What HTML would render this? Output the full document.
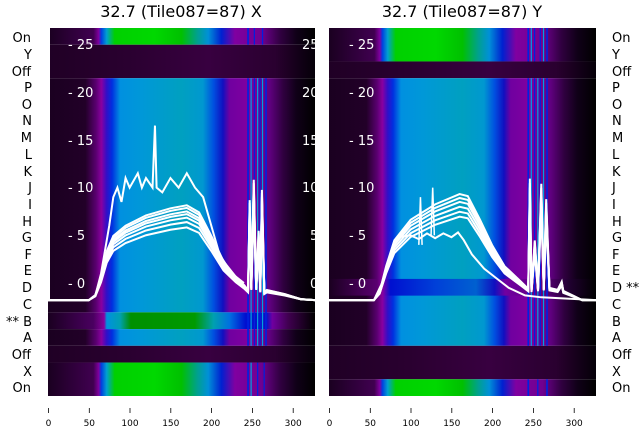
<!DOCTYPE html>
<html><head><meta charset="utf-8"><style>html,body{margin:0;padding:0;background:#fff}svg{display:block}</style></head><body>
<svg width="640" height="440" xmlns="http://www.w3.org/2000/svg" font-family="DejaVu Sans, Liberation Sans, sans-serif">
<defs>
<linearGradient id="b"><stop offset="0" stop-color="#1a0020"/><stop offset="0.14" stop-color="#220028"/><stop offset="0.18" stop-color="#5a0070"/><stop offset="0.2" stop-color="#8a00a0"/><stop offset="0.22" stop-color="#3010c8"/><stop offset="0.24" stop-color="#0030e0"/><stop offset="0.27" stop-color="#0090e0"/><stop offset="0.35" stop-color="#0098d8"/><stop offset="0.5" stop-color="#00a0c0"/><stop offset="0.58" stop-color="#0098d0"/><stop offset="0.62" stop-color="#0050e0"/><stop offset="0.655" stop-color="#1010c0"/><stop offset="0.68" stop-color="#7000a0"/><stop offset="0.75" stop-color="#8000a0"/><stop offset="0.83" stop-color="#600080"/><stop offset="0.88" stop-color="#300040"/><stop offset="0.93" stop-color="#100018"/><stop offset="1" stop-color="#000"/></linearGradient>
<linearGradient id="b2"><stop offset="0" stop-color="#1a0020"/><stop offset="0.18" stop-color="#5a0070"/><stop offset="0.2" stop-color="#8a00a0"/><stop offset="0.23" stop-color="#0010d0"/><stop offset="0.4" stop-color="#0040d8"/><stop offset="0.55" stop-color="#0060d0"/><stop offset="0.62" stop-color="#1010c0"/><stop offset="0.66" stop-color="#7000a0"/><stop offset="0.8" stop-color="#600080"/><stop offset="0.9" stop-color="#200030"/><stop offset="1" stop-color="#000"/></linearGradient>
<linearGradient id="g"><stop offset="0" stop-color="#1a0020"/><stop offset="0.17" stop-color="#400050"/><stop offset="0.19" stop-color="#8000a0"/><stop offset="0.2" stop-color="#0040e0"/><stop offset="0.22" stop-color="#00a0d0"/><stop offset="0.25" stop-color="#00d000"/><stop offset="0.4" stop-color="#00d800"/><stop offset="0.5" stop-color="#00c000"/><stop offset="0.56" stop-color="#00a090"/><stop offset="0.6" stop-color="#0090d8"/><stop offset="0.65" stop-color="#0020d0"/><stop offset="0.7" stop-color="#8000a0"/><stop offset="0.8" stop-color="#700090"/><stop offset="0.87" stop-color="#300040"/><stop offset="0.93" stop-color="#100018"/><stop offset="1" stop-color="#000"/></linearGradient>
<linearGradient id="bg"><stop offset="0" stop-color="#1a0020"/><stop offset="0.17" stop-color="#4a0060"/><stop offset="0.21" stop-color="#8a00a0"/><stop offset="0.22" stop-color="#0090e0"/><stop offset="0.27" stop-color="#00a0b0"/><stop offset="0.31" stop-color="#009000"/><stop offset="0.55" stop-color="#009a00"/><stop offset="0.62" stop-color="#00a0b0"/><stop offset="0.68" stop-color="#0070e0"/><stop offset="0.74" stop-color="#0010d0"/><stop offset="0.82" stop-color="#1010c0"/><stop offset="0.84" stop-color="#7000a0"/><stop offset="0.9" stop-color="#400050"/><stop offset="1" stop-color="#000"/></linearGradient>
<linearGradient id="d"><stop offset="0" stop-color="#200025"/><stop offset="0.3" stop-color="#2a0030"/><stop offset="0.6" stop-color="#380040"/><stop offset="0.85" stop-color="#2a0030"/><stop offset="0.95" stop-color="#100015"/><stop offset="1" stop-color="#050008"/></linearGradient>
<clipPath id="cl"><rect x="48" y="28" width="267" height="368"/></clipPath>
<clipPath id="cr"><rect x="329" y="28" width="267" height="368"/></clipPath>
<path id="L1" d="M0,-1.8 L50,-1.8 58,-1.3 65,0.5 72,3 80,4.5 95,5.5 120,6.5 150,7.2 170,7.5 185,6.8 200,4.5 215,2 230,0.5 240,-0.3 245,-0.8 247,8 249,-0.5 252,10 255,-0.5 258,5 260,-0.8 262,9 265,-1 268,-0.8 290,-1.2 310,-1.7 327,-1.8" fill="none" stroke="#fff" stroke-width="2" vector-effect="non-scaling-stroke"/>
<path id="R1" d="M0,-1.8 L55,-1.8 62,-1 70,1.5 80,4 100,6 130,7.5 160,8.5 170,8.3 185,6 200,3.5 215,1.5 235,0 244,-0.7 246,10 248,-0.8 252,4 256,-0.7 260,9.5 263,-0.6 266,8 270,-0.6 280,-0.8 285,0 287,-0.9 300,-1.4 310,-1.8 327,-1.8" fill="none" stroke="#fff" stroke-width="2" vector-effect="non-scaling-stroke"/>
</defs>

<text x="181" y="17" font-size="16" text-anchor="middle">32.7 (Tile087=87) X</text>
<text x="462" y="17" font-size="16" text-anchor="middle">32.7 (Tile087=87) Y</text>

<g clip-path="url(#cl)">
<g transform="translate(48,28) scale(0.8165,16.727)">
<rect x="0" y="0" width="327" height="1" fill="url(#g)"/>
<rect x="0" y="1" width="327" height="2" fill="url(#d)"/>
<rect x="0" y="3" width="327" height="14" fill="url(#b)"/>
<rect x="0" y="17" width="327" height="1" fill="url(#bg)"/>
<rect x="0" y="18" width="327" height="1" fill="url(#b)"/>
<rect x="0" y="19" width="327" height="1" fill="url(#d)"/>
<rect x="0" y="20" width="327" height="2" fill="url(#g)"/>
<g fill="#0020e0"><rect x="244" y="3" width="2" height="16"/><rect x="252" y="3" width="1.5" height="16"/><rect x="259" y="3" width="1.5" height="16"/><rect x="266" y="3" width="2" height="16"/><rect x="244" y="0" width="2" height="1"/><rect x="252" y="0" width="1.5" height="1"/><rect x="262" y="0" width="1.5" height="1"/><rect x="244" y="20" width="2" height="2"/><rect x="256" y="20" width="1.5" height="2"/><rect x="264" y="20" width="1.5" height="2"/></g>
<g fill="#00a0e0"><rect x="248" y="3" width="1.5" height="16"/><rect x="256" y="3" width="1.5" height="16"/><rect x="262" y="3" width="1.5" height="16"/><rect x="248" y="20" width="1.5" height="2"/></g>
</g>
<rect x="48" y="28" width="2" height="272" fill="#fff"/>
<g font-size="13" fill="#fff">
<text x="68" y="49">- 25</text><text x="68" y="97">- 20</text><text x="68" y="145">- 15</text><text x="68" y="192">- 10</text><text x="68" y="240">- 5</text><text x="68" y="288">- 0</text>
<text x="302" y="49">25</text><text x="302" y="97">20</text><text x="302" y="145">15</text><text x="302" y="192">10</text><text x="310" y="240">5</text><text x="310" y="288">0</text>
</g>
<g transform="translate(48,283) scale(0.8165,-9.54)">
<use href="#L1" transform="translate(0,-1.8) scale(1,0.82) translate(0,1.8)"/>
<use href="#L1" transform="translate(0,-1.8) scale(1,0.88) translate(0,1.8)"/>
<use href="#L1" transform="translate(0,-1.8) scale(1,0.93) translate(0,1.8)"/>
<use href="#L1" transform="translate(0,-1.8) scale(1,0.97) translate(0,1.8)"/>
<use href="#L1"/>
<use href="#L1" transform="translate(0,-1.8) scale(1,1.04) translate(0,1.8)"/>
<use href="#L1" transform="translate(0,-1.8) scale(1,1.07) translate(0,1.8)"/>
<path d="M0,-1.8 L50,-1.8 58,-1.3 65,1 75,6 80,9 85,10 90,8.5 95,11 100,10 110,11.5 115,10 120,11 128,10 131,16.5 133,10 140,9.5 150,11 160,10 170,11.5 180,10 190,9 200,6 210,3 225,1 240,0" fill="none" stroke="#fff" stroke-width="2" vector-effect="non-scaling-stroke"/>
</g>
</g>

<g clip-path="url(#cr)">
<g transform="translate(329,28) scale(0.8165,16.727)">
<rect x="0" y="0" width="327" height="2" fill="url(#g)"/>
<rect x="0" y="2" width="327" height="1" fill="url(#d)"/>
<rect x="0" y="3" width="327" height="16" fill="url(#b)"/>
<rect x="0" y="15" width="327" height="1" fill="url(#b2)"/>
<rect x="0" y="19" width="327" height="2" fill="url(#d)"/>
<rect x="0" y="21" width="327" height="1" fill="url(#g)"/>
<g fill="#0020e0"><rect x="243" y="0" width="2" height="2"/><rect x="251" y="0" width="1.5" height="2"/><rect x="258" y="0" width="1.5" height="2"/><rect x="266" y="0" width="2" height="2"/><rect x="243" y="3" width="2" height="16"/><rect x="251" y="3" width="1.5" height="16"/><rect x="258" y="3" width="1.5" height="16"/><rect x="266" y="3" width="2" height="16"/><rect x="243" y="21" width="2" height="1"/><rect x="255" y="21" width="1.5" height="1"/><rect x="266" y="21" width="2" height="1"/></g>
<g fill="#00a0e0"><rect x="247" y="0" width="1.5" height="2"/><rect x="262" y="0" width="1.5" height="2"/><rect x="247" y="3" width="1.5" height="16"/><rect x="255" y="3" width="1.5" height="16"/><rect x="262" y="3" width="1.5" height="16"/></g>
</g>
<g font-size="13" fill="#fff">
<text x="349" y="49">- 25</text><text x="349" y="97">- 20</text><text x="349" y="145">- 15</text><text x="349" y="192">- 10</text><text x="349" y="240">- 5</text><text x="349" y="288">- 0</text>
</g>
<g transform="translate(329,283) scale(0.8165,-9.54)">
<use href="#R1" transform="translate(0,-1.8) scale(1,0.85) translate(0,1.8)"/>
<use href="#R1" transform="translate(0,-1.8) scale(1,0.9) translate(0,1.8)"/>
<use href="#R1" transform="translate(0,-1.8) scale(1,0.95) translate(0,1.8)"/>
<use href="#R1"/>
<use href="#R1" transform="translate(0,-1.8) scale(1,1.04) translate(0,1.8)"/>
<use href="#R1" transform="translate(0,-1.8) scale(1,1.08) translate(0,1.8)"/>
<path d="M0,-1.8 L55,-1.8 65,0 75,3 85,4.8 100,5 110,4.6 120,5.2 130,4.7 140,5.2 150,4.8 158,5.3 165,4.5 175,3 190,1.5 205,0.5 220,-0.5 240,-1.3 260,-1.5 327,-1.8" fill="none" stroke="#fff" stroke-width="2" vector-effect="non-scaling-stroke"/>
<path d="M110,4 L112,9 114,4 M125,5 L127,10 129,5" fill="none" stroke="#fff" stroke-width="1.5" vector-effect="non-scaling-stroke"/>
</g>
</g>

<g font-size="13" fill="#000" text-anchor="end">
<text x="31" y="42">On</text><text x="32" y="59">Y</text><text x="31" y="76">Off</text><text x="32" y="92">P</text><text x="32" y="109">O</text><text x="32" y="125">N</text><text x="32" y="142">M</text><text x="32" y="159">L</text><text x="32" y="176">K</text><text x="32" y="192">J</text><text x="32" y="209">I</text><text x="32" y="226">H</text><text x="32" y="242">G</text><text x="32" y="259">F</text><text x="32" y="275">E</text><text x="32" y="292">D</text><text x="32" y="309">C</text><text x="32" y="326">** B</text><text x="32" y="342">A</text><text x="31" y="359">Off</text><text x="32" y="376">X</text><text x="31" y="392">On</text>
</g>
<g font-size="13" fill="#000">
<text x="612" y="42">On</text><text x="612" y="59">Y</text><text x="612" y="76">Off</text><text x="612" y="92">P</text><text x="612" y="109">O</text><text x="612" y="125">N</text><text x="612" y="142">M</text><text x="612" y="159">L</text><text x="612" y="176">K</text><text x="612" y="192">J</text><text x="612" y="209">I</text><text x="612" y="226">H</text><text x="612" y="242">G</text><text x="612" y="259">F</text><text x="612" y="275">E</text><text x="612" y="292">D **</text><text x="612" y="309">C</text><text x="612" y="326">B</text><text x="612" y="342">A</text><text x="612" y="359">Off</text><text x="612" y="376">X</text><text x="612" y="392">On</text>
</g>

<g stroke="#000" stroke-width="0.8">
<path d="M48.5,408V413M89.3,408V413M130,408V413M170.8,408V413M211.6,408V413M252.4,408V413M293.2,408V413"/>
<path d="M329.5,408V413M370.3,408V413M411,408V413M451.8,408V413M492.6,408V413M533.4,408V413M574.2,408V413"/>
</g>
<g font-size="9" fill="#000" text-anchor="middle">
<text x="48.5" y="426">0</text><text x="89.3" y="426">50</text><text x="130" y="426">100</text><text x="170.8" y="426">150</text><text x="211.6" y="426">200</text><text x="252.4" y="426">250</text><text x="293.2" y="426">300</text>
<text x="329.5" y="426">0</text><text x="370.3" y="426">50</text><text x="411" y="426">100</text><text x="451.8" y="426">150</text><text x="492.6" y="426">200</text><text x="533.4" y="426">250</text><text x="574.2" y="426">300</text>
</g>
</svg>
</body></html>
